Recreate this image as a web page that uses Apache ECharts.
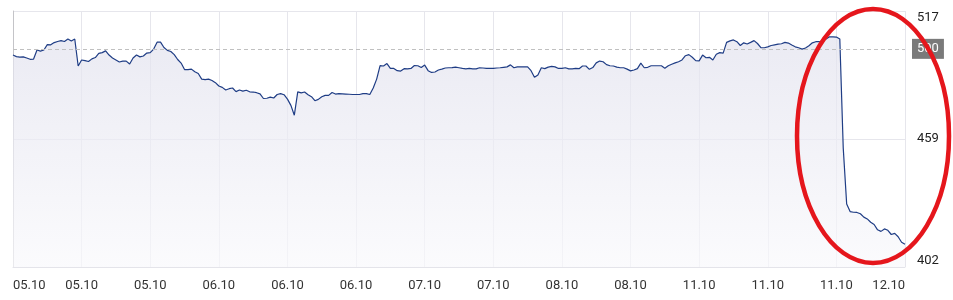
<!DOCTYPE html>
<html>
<head>
<meta charset="utf-8">
<script src="https://cdn.jsdelivr.net/npm/echarts@6/dist/echarts.min.js"></script>
<style>
html,body{margin:0;padding:0;background:#fff;}
#chart{width:953px;height:300px;}
</style>
</head>
<body>
<div id="chart"></div>
<script>
const tickLabels = ['05.10','05.10','05.10','06.10','06.10','06.10','07.10','07.10','08.10','08.10','11.10','11.10','11.10','12.10'];
const pointsPerTick = 20;
const prices = [
497.2,496.5,496.3,496.4,495.9,495.3,495.4,499.5,499.0,499.5,
501.9,501.8,502.8,503.3,503.7,503.3,504.4,503.5,504.4,492.3,
495.0,494.7,494.3,495.5,496.1,498.0,498.3,499.1,497.2,495.9,
495.0,494.1,494.5,494.5,493.2,495.9,497.2,496.4,496.8,498.1,
498.3,499.9,503.0,503.0,500.6,499.3,498.8,497.4,495.2,493.6,
490.7,490.7,490.9,489.7,488.9,486.4,486.2,486.4,485.8,484.8,
483.3,482.7,481.5,482.1,482.4,480.8,481.5,481.0,481.4,480.7,
480.6,480.3,479.8,477.7,477.8,478.3,477.9,479.5,479.9,479.4,
477.4,474.6,470.2,480.7,480.2,480.6,479.4,478.5,476.7,477.3,
478.5,479.1,479.1,480.4,479.7,479.9,479.8,479.7,479.6,479.5,
479.5,479.5,479.9,479.9,479.5,482.4,486.4,492.5,492.3,493.4,
491.2,491.2,490.2,490.0,491.1,491.0,491.2,492.5,492.4,491.6,
492.7,490.2,489.4,489.6,490.5,490.9,491.4,491.5,491.6,491.8,
491.5,491.2,491.0,491.2,491.0,491.0,491.5,491.4,491.2,491.2,
491.2,491.4,491.5,491.7,491.9,492.8,491.5,491.9,491.9,491.9,
491.9,490.2,487.2,488.3,491.5,491.1,491.8,492.1,491.9,491.2,
491.2,491.5,491.0,491.0,491.2,491.1,492.3,492.3,490.8,491.6,
493.7,494.5,494.2,492.9,492.4,492.3,491.8,491.5,491.5,490.9,
490.1,490.5,491.1,493.6,491.5,491.7,492.4,492.4,492.4,492.4,
491.3,492.4,493.1,493.7,494.2,495.0,496.9,497.4,496.2,494.7,
494.6,497.2,496.0,496.2,495.0,497.6,498.3,498.1,502.9,503.6,
504.0,503.2,501.5,502.7,502.2,502.9,503.7,502.4,500.5,500.5,
500.9,501.5,501.8,502.1,502.3,502.9,502.6,501.7,500.9,500.5,
499.9,500.4,501.4,502.7,503.2,503.2,503.6,504.4,505.4,505.4,
505.3,504.4,455.4,430.3,426.9,426.6,426.5,425.9,424.4,423.6,
422.1,421.1,418.7,418.0,419.1,418.5,416.6,417.1,415.6,413.1,
412.2
];
const yMin = 402, yMax = 517, yStep = 57.5;
const refLevel = 500;

const categories = prices.map((_, i) => tickLabels[Math.floor(i / pointsPerTick)]);

const chart = echarts.init(document.getElementById('chart'), null, {renderer: 'canvas'});
const font = 'Roboto, "Noto Sans", sans-serif';
chart.setOption({
  animation: false,
  backgroundColor: '#ffffff',
  grid: {left: 13, right: 48, top: 11, bottom: 33, containLabel: false},
  xAxis: {
    type: 'category',
    data: categories,
    boundaryGap: false,
    axisLine: {show: true, lineStyle: {color: '#e4e4ea', width: 1}},
    axisTick: {show: false},
    axisLabel: {
      interval: pointsPerTick - 1,
      color: '#333',
      fontSize: 13,
      fontFamily: font,
      margin: 12,
      alignMinLabel: 'left',
      alignMaxLabel: 'right'
    },
    splitLine: {show: true, interval: pointsPerTick - 1, lineStyle: {color: '#e6e6ec', width: 1}}
  },
  yAxis: [{
    type: 'value',
    position: 'right',
    min: yMin,
    max: yMax,
    interval: yStep,
    axisLine: {show: false},
    axisTick: {show: false},
    axisLabel: {
      color: '#222',
      fontSize: 13,
      fontFamily: font,
      margin: 12,
      formatter: v => String(Math.floor(v)),
      verticalAlignMinLabel: 'bottom',
      verticalAlignMaxLabel: 'top'
    },
    splitLine: {show: true, lineStyle: {color: '#e6e6ec', width: 1}}
  }, {
    type: 'value',
    position: 'left',
    min: yMin,
    max: yMax,
    axisLine: {show: true, lineStyle: {color: '#c4c4c8', width: 1}},
    axisTick: {show: false},
    axisLabel: {show: false},
    splitLine: {show: false}
  }],
  series: [{
    type: 'line',
    data: prices,
    yAxisIndex: 0,
    showSymbol: false,
    symbol: 'none',
    lineStyle: {color: '#1f3d85', width: 1.2},
    areaStyle: {
      origin: 'start',
      color: new echarts.graphic.LinearGradient(0, 0, 0, 1, [
        {offset: 0, color: '#e2e2ee'},
        {offset: 1, color: '#f9f9fc'}
      ])
    },
    markLine: {
      silent: true,
      symbol: 'none',
      lineStyle: {color: '#c0c0c0', type: [4, 3], width: 1},
      label: {
        position: 'end',
        distance: 7,
        formatter: '500',
        color: '#ffffff',
        backgroundColor: '#7a7a7a',
        padding: [4, 5, 3, 5],
        fontSize: 13,
        fontFamily: font
      },
      data: [{yAxis: refLevel}]
    }
  }],
  graphic: [{
    type: 'ellipse',
    z: 100,
    shape: {cx: 873, cy: 136, rx: 76, ry: 127},
    style: {fill: 'none', stroke: '#e5161c', lineWidth: 4.5}
  }]
});
</script>
</body>
</html>
